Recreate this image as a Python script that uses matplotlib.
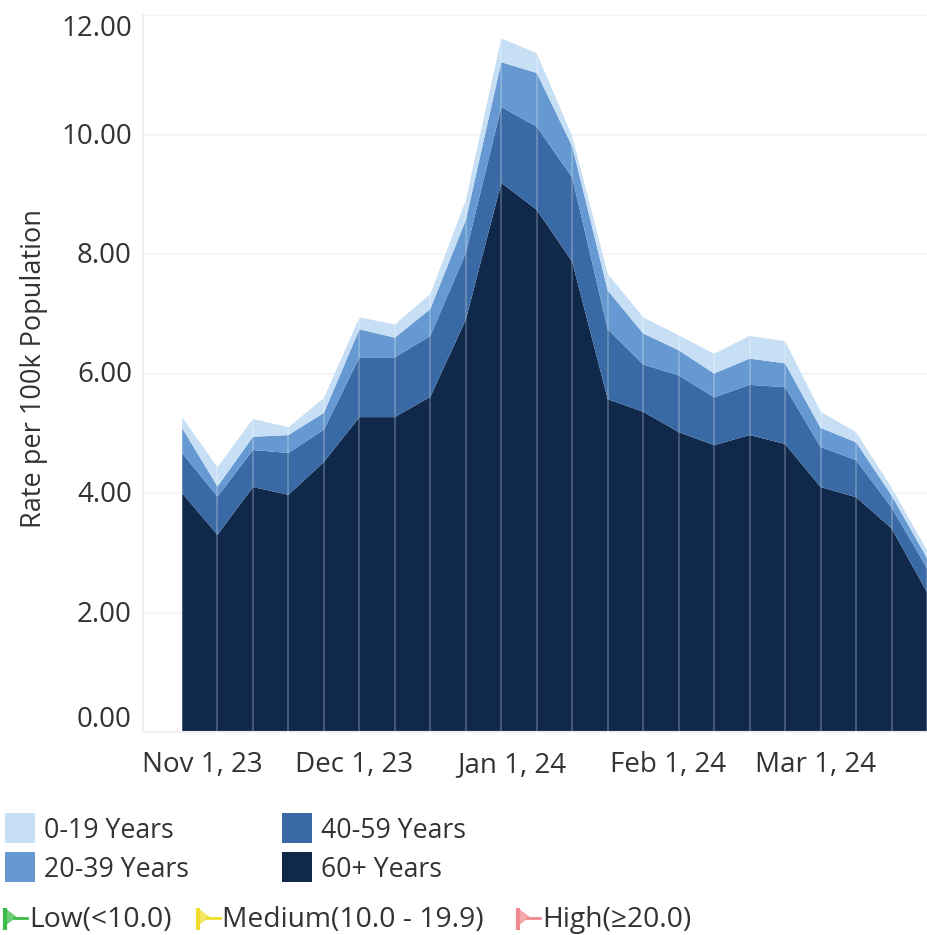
import matplotlib
matplotlib.use("Agg")
import matplotlib.pyplot as plt
import matplotlib.dates as mdates
import numpy as np
import pandas as pd
from matplotlib.patches import Polygon, Rectangle
from matplotlib.transforms import ScaledTranslation

plt.rcParams['font.family'] = ['Open Sans', 'DejaVu Sans']

# weekly points
week_start = "2023-10-28"
n_weeks = 22
age_60 = [4.00, 3.30, 4.10, 3.97, 4.52, 5.27, 5.27, 5.61, 6.90, 9.19, 8.74,
          7.87, 5.57, 5.36, 5.02, 4.80, 4.97, 4.82, 4.10, 3.93, 3.41, 2.34]
age_40 = [0.67, 0.64, 0.62, 0.70, 0.54, 1.00, 1.00, 1.02, 1.12, 1.27, 1.39,
          1.41, 1.17, 0.79, 0.95, 0.80, 0.84, 0.95, 0.67, 0.62, 0.35, 0.40]
age_20 = [0.42, 0.17, 0.22, 0.30, 0.28, 0.47, 0.33, 0.45, 0.55, 0.75, 0.90,
          0.52, 0.65, 0.52, 0.42, 0.40, 0.44, 0.40, 0.32, 0.30, 0.20, 0.17]
age_0 = [0.18, 0.32, 0.30, 0.13, 0.25, 0.20, 0.22, 0.25, 0.33, 0.40, 0.33,
         0.17, 0.28, 0.27, 0.25, 0.33, 0.38, 0.37, 0.27, 0.17, 0.13, 0.13]

y_ticks = [0, 2, 4, 6, 8, 10, 12]
x_ticks = ["2023-11-01", "2023-12-01", "2024-01-01", "2024-02-01", "2024-03-01"]
x_labels = ["Nov 1, 23", "Dec 1, 23", "Jan 1, 24", "Feb 1, 24", "Mar 1, 24"]

colors = {"0-19 Years": "#c6dff5", "20-39 Years": "#6699d1",
          "40-59 Years": "#3a6aa5", "60+ Years": "#10294b"}
text_color = "#333333"
W, H = 928, 935

dates = pd.date_range(week_start, periods=n_weeks, freq="7D")
x = mdates.date2num(dates)
totals = np.sum([age_60, age_40, age_20, age_0], axis=0)

fig = plt.figure(figsize=(W / 100, H / 100), dpi=100)
ax = fig.add_axes([143 / W, 1 - 732 / H, (W - 143) / W, (732 - 15) / H])

ax.stackplot(x, age_60, age_40, age_20, age_0, linewidth=0, zorder=2,
             colors=[colors["60+ Years"], colors["40-59 Years"],
                     colors["20-39 Years"], colors["0-19 Years"]])
# thin light drop lines at every week
ax.vlines(x, 0, totals, color="white", alpha=0.22, linewidth=1.5, zorder=3)

ax.set_xlim(x[0] - 7.7, x[-1] + 0.2)
ax.set_ylim(0, 12)
ax.set_yticks(y_ticks)
ax.set_yticklabels([f"{v:.2f}" for v in y_ticks], fontsize=20, color=text_color)
ax.set_xticks(mdates.date2num(pd.to_datetime(x_ticks)))
ax.set_xticklabels(x_labels, fontsize=20, color=text_color)
ax.tick_params(axis="both", length=0)
ax.tick_params(axis="x", pad=14)
ax.tick_params(axis="y", pad=8)
# the end labels sit inside the plot range, the rest a touch under their line
nudge = ScaledTranslation(0, -2 / 100, fig.dpi_scale_trans)
for lab, v in zip(ax.get_yticklabels(), y_ticks):
    if v == 0:
        lab.set_verticalalignment("bottom")
    elif v == 12:
        lab.set_verticalalignment("top")
    else:
        lab.set_verticalalignment("center")
    if v != 12:
        lab.set_transform(lab.get_transform() + nudge)

ax.grid(axis="y", color="#f5f5f5", linewidth=1.5, zorder=0)
ax.set_axisbelow(True)
for side in ["top", "right"]:
    ax.spines[side].set_visible(False)
for side in ["left", "bottom"]:
    ax.spines[side].set_color("#f0f0f0")
    ax.spines[side].set_linewidth(1.5)

fig.text(34 / W, 1 - 368 / H, "Rate per 100k Population", rotation=90,
         fontsize=19.5, color=text_color, ha="center", va="center")

# legend area, laid out in pixels
lg = fig.add_axes([0, 0, 1, 1], facecolor="none")
lg.set_xlim(0, W)
lg.set_ylim(H, 0)
lg.axis("off")

swatches = [("0-19 Years", 5, 813), ("20-39 Years", 5, 852),
            ("40-59 Years", 282, 813), ("60+ Years", 282, 852)]
for name, sx, sy in swatches:
    lg.add_patch(Rectangle((sx, sy), 30, 30, facecolor=colors[name], edgecolor="none"))
    lg.text(sx + 39, sy + 18, name, fontsize=19.2, color=text_color, va="center")

flags = [("Low(<10.0)", 2, "#3dbb4a"), ("Medium(10.0 - 19.9)", 195, "#f0dc2c"),
         ("High(≥20.0)", 515, "#f08a8f")]
for name, fx, col in flags:
    lg.plot([fx + 3, fx + 3], [908, 930], color=col, linewidth=3, solid_capstyle="butt")
    lg.add_patch(Polygon([(fx + 4, 909), (fx + 15, 917), (fx + 4, 925)],
                         facecolor=col, edgecolor="none", alpha=0.75))
    lg.plot([fx + 12, fx + 25], [918, 918], color=col, linewidth=2)
    lg.text(fx + 27, 920, name, fontsize=20.3, color=text_color, va="center")

fig.savefig("out.png", dpi=100)
plt.close(fig)
